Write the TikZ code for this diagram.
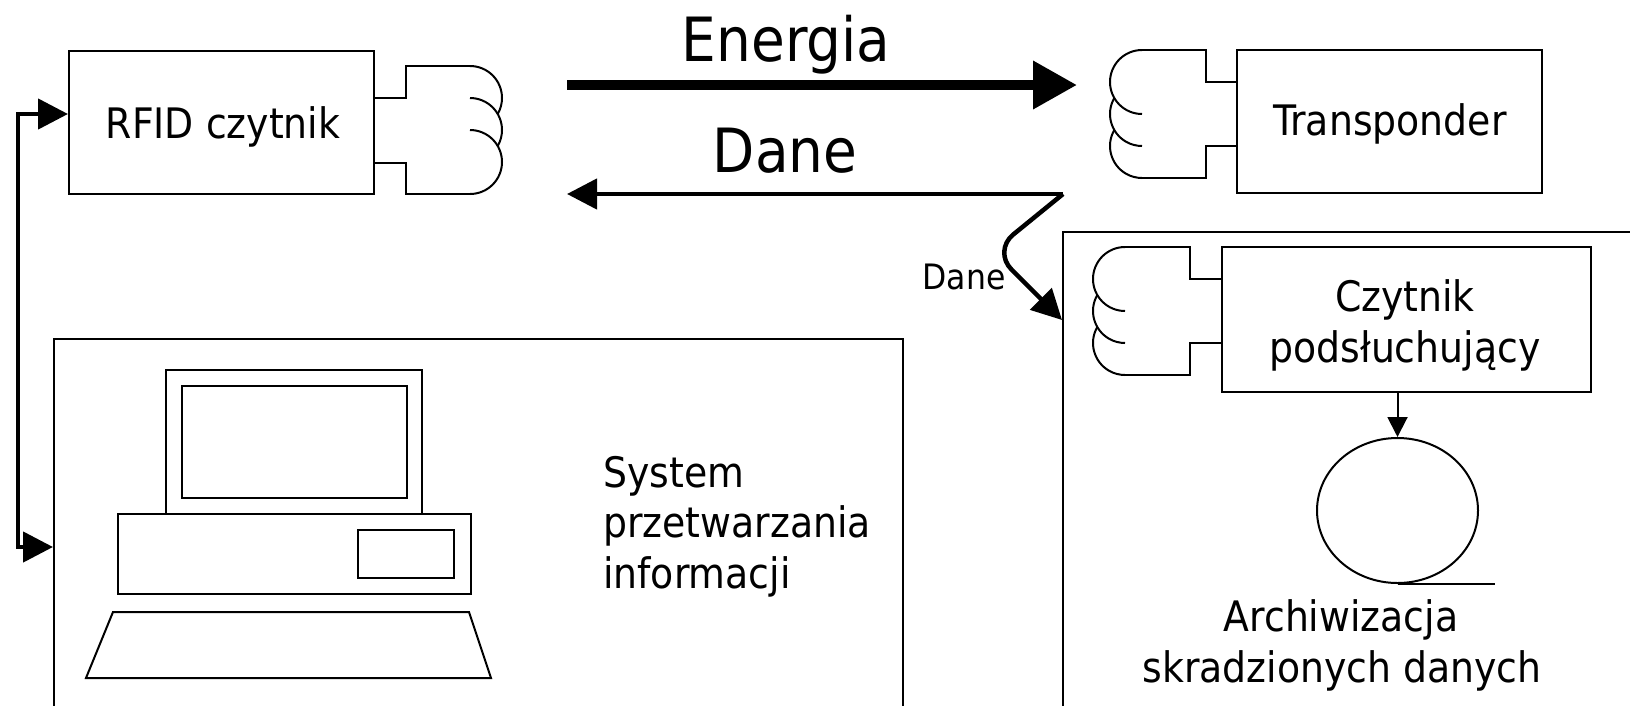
\documentclass[tikz,border=0pt]{standalone}
\usepackage{fontspec}
\setmainfont{DejaVu Sans Condensed}
\usetikzlibrary{arrows.meta,shapes.geometric}

\tikzset{
  outline/.style={line width=2pt},
  box/.style={draw, line width=2pt, inner sep=0pt, rectangle},
  frame/.style={draw, line width=2pt, inner sep=0pt, rectangle, anchor=north west},
  txt/.style={anchor=base, inner sep=0pt, font=\fontsize{42}{51}\selectfont},
  bigtxt/.style={anchor=base, inner sep=0pt, font=\fontsize{61}{70}\selectfont},
  smalltxt/.style={anchor=base, inner sep=0pt, font=\fontsize{35}{42}\selectfont},
  link/.style={line width=4.5pt},
  head/.style={-{Triangle[length=30pt,width=30pt]}},
  % antenna coil opening to the right, origin at its top end
  pics/coilright/.style={code={
    \draw[outline] (0,0) arc[start angle=-90,end angle=30,radius=32];
    \draw[outline] (0,32) arc[start angle=-90,end angle=30,radius=32];
    \draw[outline] (0,64) arc[start angle=-90,end angle=90,radius=32];
  }},
  % antenna coil opening to the left, origin at its top end
  pics/coilleft/.style={code={
    \draw[outline] (0,0) arc[start angle=270,end angle=90,radius=32];
    \draw[outline] (-27.71,48) arc[start angle=210,end angle=90,radius=32];
    \draw[outline] (-27.71,80) arc[start angle=210,end angle=90,radius=32];
  }},
}

\begin{document}
\begin{tikzpicture}[x=1pt,y=-1pt]
\useasboundingbox (0,0) rectangle (1630,705);
\fill[white] (0,0) rectangle (1630,705);
\clip (0,0) rectangle (1630,705);

% --- reader and transponder ---
\node[box, minimum width=305pt, minimum height=143pt] (rfid) at (221.5,122.5) {};
\node[txt] (rfidtxt) at (223,138) {RFID czytnik};
\draw[outline] (374,98) -- (406,98) -- (406,66) -- (470,66);
\draw[outline] (374,163) -- (406,163) -- (406,194) -- (470,194);
\pic at (470,66) {coilright};

\node[box, minimum width=305pt, minimum height=143pt] (trans) at (1389.5,121.5) {};
\node[txt] (transtxt) at (1390,135) {Transponder};
\draw[outline] (1237,82) -- (1206,82) -- (1206,50) -- (1142,50);
\draw[outline] (1237,146) -- (1206,146) -- (1206,178) -- (1142,178);
\pic at (1142,50) {coilleft};

% --- radio link ---
\coordinate (enStart) at (567,85);
\coordinate (enEnd) at (1077,85);
\draw[line width=10pt, -{Triangle[length=44pt,width=46pt]}] (enStart) -- (enEnd);
\node[bigtxt] (entxt) at (786,61) {Energia};

\coordinate (daneCorner) at (1063,194);
\coordinate (daneEnd) at (567,194);
\draw[link, head] (daneCorner) -- (daneEnd);
\node[bigtxt] (danetxt) at (785,172) {Dane};

% --- eavesdropping reader ---
\node[frame, minimum width=620pt, minimum height=520pt] (eavframe) at (1062,231) {};
\node[box, minimum width=369pt, minimum height=145pt] (eav) at (1406.5,319.5) {};
\node[txt] (eavtxt1) at (1405,311) {Czytnik};
\node[txt] (eavtxt2) at (1405,362) {podsłuchujący};
\draw[outline] (1222,279) -- (1190,279) -- (1190,247) -- (1125,247);
\draw[outline] (1222,343) -- (1190,343) -- (1190,375) -- (1125,375);
\pic at (1125,247) {coilleft};

\draw[link, rounded corners=26pt, head] (daneCorner) -- (993,251) -- ([yshift=-89pt]eavframe.north west);
\node[smalltxt] (dane2txt) at (964,289) {Dane};

\node[draw, ellipse, line width=2pt, inner sep=0pt, minimum width=161pt, minimum height=145pt] (arch) at (1397.5,510.5) {};
\draw[outline] (arch.south) -- ++(97,0);
\draw[outline, -{Triangle[length=20pt,width=20pt]}] (arch.north |- eav.south) -- (arch.north);
\node[txt] (archtxt1) at (1341,631) {Archiwizacja};
\node[txt] (archtxt2) at (1342,682) {skradzionych danych};

% --- information processing system ---
\node[frame, minimum width=849pt, minimum height=420pt] (sys) at (53,338) {};
\draw[outline] (166,370) rectangle (422,514);
\draw[outline] (182,386) rectangle (407,498);
\draw[outline] (118,514) rectangle (471,594);
\draw[outline] (358,530) rectangle (454,578);
\draw[outline] (113,612) -- (469,612) -- (491,678) -- (86,678) -- cycle;
\node[txt, anchor=base west] (systxt1) at (603,487) {System};
\node[txt, anchor=base west] (systxt2) at (603,537) {przetwarzania};
\node[txt, anchor=base west] (systxt3) at (603,588) {informacji};

% reader to system link
\draw[link, {Triangle[length=30pt,width=30pt]}-{Triangle[length=30pt,width=30pt]}]
  ([yshift=8.5pt]rfid.west) -- (18,114) |- ([yshift=-209pt]sys.north west);
\end{tikzpicture}
\end{document}
